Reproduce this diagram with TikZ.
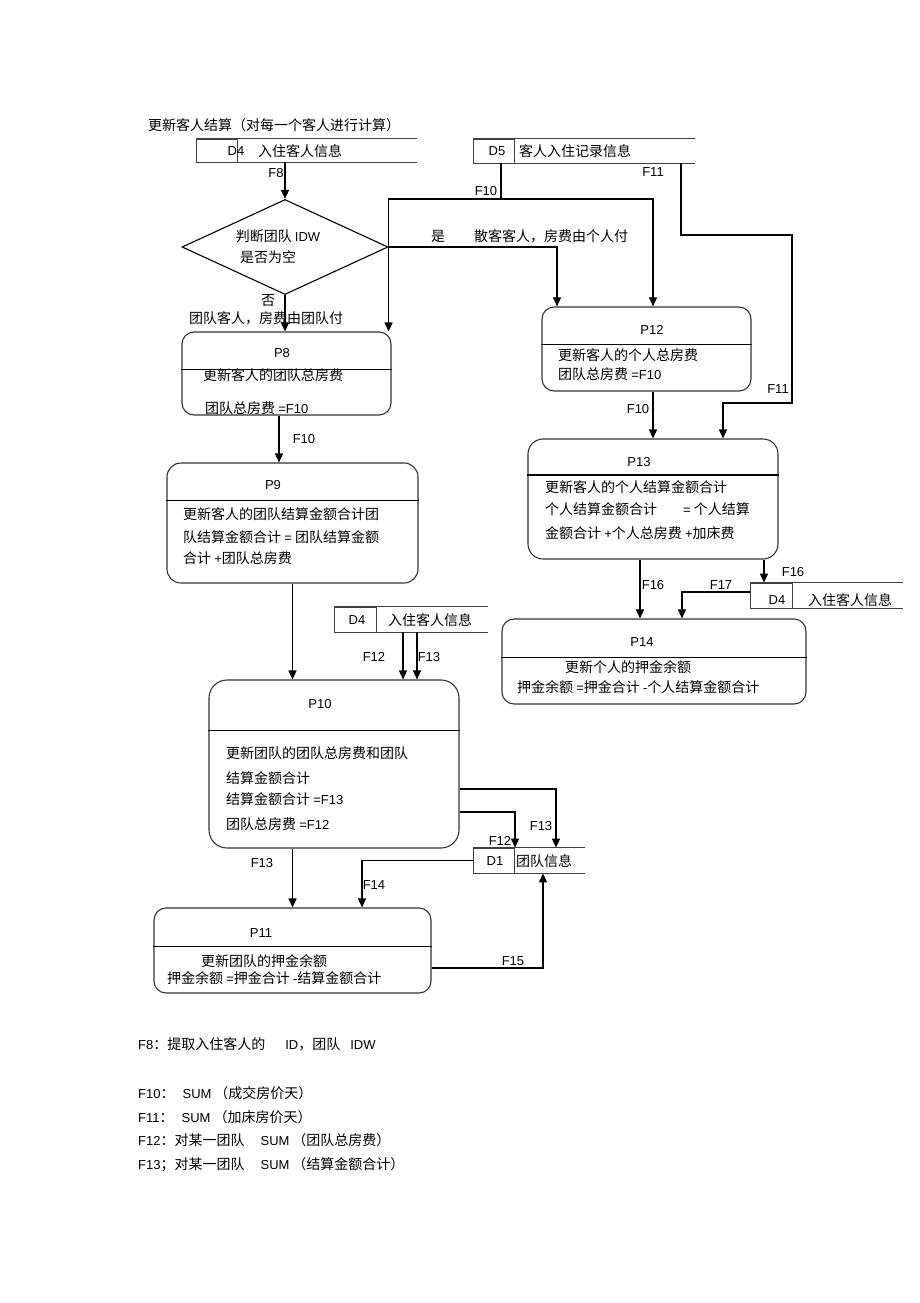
\documentclass[tikz,border=0pt]{standalone}
\usepackage{fontspec}
\setmainfont{Noto Sans CJK SC}
\newfontfamily\enfont{Liberation Sans}
\newcommand\en[1]{{\enfont\fontsize{13}{15}\selectfont #1}}
\usetikzlibrary{shapes.geometric,arrows.meta}
\tikzset{proc/.style={draw=black!80, line width=1.1pt, rounded corners=12pt, inner sep=0pt},
idbox/.style={draw=black!75, line width=0.8pt, inner sep=0pt, minimum width=41, minimum height=25},
storeln/.style={draw=black!75, line width=0.8pt},
flow/.style={draw, line width=1.3pt, -{Triangle[length=9pt,width=8pt]}},
txt/.style={inner sep=0pt, font=\fontsize{14}{16}\selectfont},
tag/.style={inner sep=0pt, font=\enfont\fontsize{13}{15}\selectfont}}

\begin{document}
\begin{tikzpicture}[x=1pt,y=-1pt]
			\useasboundingbox (0,0) rectangle (920,1303);
			\node[txt,anchor=west] (title) at (148,125) {更新客人结算（对每一个客人进行计算）};
			\node[idbox,minimum height=23] (d4a) at (216.5,150.5) {};
			\draw[storeln] (d4a.north west) -- ++(221,0) (d4a.south west) -- ++(221,0);
			\node[tag] (d4at) at (236,151) {D4};
			\node[txt,anchor=west] (d4al) at (258,151) {入住客人信息};
			\node[idbox,minimum height=24] (d5a) at (493.5,151) {};
			\draw[storeln] (d5a.north west) -- ++(222,0) (d5a.south west) -- ++(222,0);
			\node[tag] (d5at) at (497,151) {D5};
			\node[txt,anchor=west] (d5al) at (519,151) {客人入住记录信息};
			\node[idbox,minimum width=42] (d4b) at (355,619.5) {};
			\draw[storeln] (d4b.north west) -- ++(154,0) (d4b.south west) -- ++(154,0);
			\node[tag] (d4bt) at (357,620) {D4};
			\node[txt,anchor=west] (d4bl) at (388,620) {入住客人信息};
			\node[idbox,minimum width=42] (d4c) at (771,595.5) {};
			\draw[storeln] (d4c.north west) -- ++(153,0) (d4c.south west) -- ++(153,0);
			\node[tag] (d4ct) at (777,600) {D4};
			\node[txt,anchor=west] (d4cl) at (808,600) {入住客人信息};
			\node[idbox] (d1a) at (493.5,860.5) {};
			\draw[storeln] (d1a.north west) -- ++(112,0) (d1a.south west) -- ++(112,0);
			\node[tag] (d1at) at (495,861) {D1};
			\node[txt,anchor=west] (d1al) at (516,861) {团队信息};
			\node[draw, diamond, line width=1.1pt, minimum width=206, minimum height=95, inner sep=0pt] (dia) at (285,247) {};
			\node[txt] (dia1) at (278,236) {判断团队 \en{IDW}};
			\node[txt] (dia2) at (268,257) {是否为空};
			\node[proc, minimum width=209, minimum height=83] (p8) at (286.5,373.5) {};
			\draw[line width=0.9pt] (p8.west |- 0,369) -- (p8.east |- 0,369);
			\node[tag] (p8t) at (282,353) {P8};
			\node[txt,anchor=west] (p8a) at (203,375) {更新客人的团队总房费};
			\node[txt,anchor=west] (p8b) at (205,408) {团队总房费 \en{=F10}};
			\node[proc, minimum width=251, minimum height=120, rounded corners=14pt] (p9) at (292.5,523) {};
			\draw[line width=0.9pt] (p9.west |- 0,500) -- (p9.east |- 0,500);
			\node[tag] (p9t) at (273,485) {P9};
			\node[txt,anchor=west] (p9a) at (183,514) {更新客人的团队结算金额合计团};
			\node[txt,anchor=west] (p9b) at (183,537) {队结算金额合计 \en{=} 团队结算金额};
			\node[txt,anchor=west] (p9c) at (183,558) {合计 \en{+}团队总房费};
			\node[proc, minimum width=250, minimum height=168, rounded corners=18pt] (p10) at (334,764) {};
			\draw[line width=0.9pt] (p10.west |- 0,730) -- (p10.east |- 0,730);
			\node[tag] (p10t) at (320,704) {P10};
			\node[txt,anchor=west] (p10a) at (226,753) {更新团队的团队总房费和团队};
			\node[txt,anchor=west] (p10b) at (226,778) {结算金额合计};
			\node[txt,anchor=west] (p10c) at (226,799) {结算金额合计 \en{=F13}};
			\node[txt,anchor=west] (p10d) at (226,824) {团队总房费 \en{=F12}};
			\node[proc, minimum width=277, minimum height=85] (p11) at (292.5,950.5) {};
			\draw[line width=0.9pt] (p11.west |- 0,946) -- (p11.east |- 0,946);
			\node[tag] (p11t) at (261,933) {P11};
			\node[txt,anchor=west] (p11a) at (201,961) {更新团队的押金余额};
			\node[txt,anchor=west] (p11b) at (167,978) {押金余额 \en{=}押金合计 \en{-}结算金额合计};
			\node[proc, minimum width=209, minimum height=84] (p12) at (646.5,349) {};
			\draw[line width=0.9pt] (p12.west |- 0,344) -- (p12.east |- 0,344);
			\node[tag] (p12t) at (652,330) {P12};
			\node[txt,anchor=west] (p12a) at (558,355) {更新客人的个人总房费};
			\node[txt,anchor=west] (p12b) at (558,374) {团队总房费 \en{=F10}};
			\node[proc, minimum width=250, minimum height=120, rounded corners=15pt] (p13) at (653,499) {};
			\draw[line width=1.6pt] (p13.west |- 0,475) -- (p13.east |- 0,475);
			\node[tag] (p13t) at (639,462) {P13};
			\node[txt,anchor=west] (p13a) at (545,487) {更新客人的个人结算金额合计};
			\node[txt,anchor=west] (p13b) at (545,509) {个人结算金额合计\hspace{26pt}\en{=} 个人结算};
			\node[txt,anchor=west] (p13c) at (545,533) {金额合计 \en{+}个人总房费 \en{+}加床费};
			\node[proc, minimum width=304, minimum height=85] (p14) at (654,661.5) {};
			\draw[line width=0.9pt] (p14.west |- 0,657) -- (p14.east |- 0,657);
			\node[tag] (p14t) at (642,642) {P14};
			\node[txt,anchor=west] (p14a) at (565,667) {更新个人的押金余额};
			\node[txt,anchor=west] (p14b) at (517,687) {押金余额 \en{=}押金合计 \en{-}个人结算金额合计};
			\coordinate (j1) at (501,199);
			\coordinate (k1) at (681,235);
			\coordinate (k2) at (792,403);
			\draw[flow] (dia.north |- d4a.south) -- (dia.north);
			\draw[line width=1.3pt] (j1 |- d5a.south) -- (j1);
			\draw[flow] (j1) -| (dia.east |- p8.north);
			\draw[flow] (j1) -| ([xshift=6.5]p12.north);
			\draw[flow] (dia.east) -| ([xshift=-89.5]p12.north);
			\draw[flow] (dia.south) -- (dia.south |- p8.north);
			\draw[flow] (k1 |- d5a.south) -- (k1) -| (k2) -| ([xshift=70]p13.north);
			\draw[flow] ([xshift=-7.5]p8.south) -- ([xshift=-7.5]p8.south |- p9.north);
			\draw[flow] (p9.south) -- (p9.south |- p10.north);
			\draw[flow] ([xshift=48]d4b.south) -- ([xshift=48]d4b.south |- p10.north);
			\draw[flow] ([xshift=62]d4b.south) -- ([xshift=62]d4b.south |- p10.north);
			\draw[flow] ([yshift=-25]p10.east) -| ([xshift=62.5]d1a.north);
			\draw[flow] ([yshift=-48]p10.east) -| ([xshift=21.5]d1a.north);
			\draw[flow] (d1a.west) -| ([xshift=69.5]p11.north);
			\draw[flow] (p11.north |- p10.south) -- (p11.north);
			\draw[flow] ([yshift=-17.5]p11.east) -| ([xshift=49.5]d1a.south);
			\draw[flow] (p13.north |- p12.south) -- (p13.north);
			\draw[flow] ([xshift=-13]p13.south) -- ([xshift=-13]p13.south |- p14.north);
			\draw[flow] ([xshift=111]p13.south) -- ([xshift=111]p13.south |- d4c.north);
			\draw[flow] ([yshift=3.5]d4c.west) -| ([xshift=28]p14.north);
			\node[tag] (f8) at (276,173) {F8};
			\node[tag] (f10a) at (486,191) {F10};
			\node[tag] (f11a) at (653,172) {F11};
			\node[txt] (yes) at (438,236) {是};
			\node[txt,anchor=west] (yesl) at (474,236) {散客客人，房费由个人付};
			\node[txt] (no) at (268,301) {否};
			\node[txt,anchor=west] (nol) at (189,318) {团队客人，房费由团队付};
			\node[tag] (f11b) at (778,389) {F11};
			\node[tag] (f10b) at (638,409) {F10};
			\node[tag] (f10c) at (304,439) {F10};
			\node[tag] (f16a) at (653,585) {F16};
			\node[tag] (f17) at (721,585) {F17};
			\node[tag] (f16b) at (793,572) {F16};
			\node[tag] (f12a) at (374,657) {F12};
			\node[tag] (f13a) at (429,657) {F13};
			\node[tag] (f13b) at (541,826) {F13};
			\node[tag] (f12b) at (500,841) {F12};
			\node[tag] (f13c) at (262,863) {F13};
			\node[tag] (f14) at (374,885) {F14};
			\node[tag] (f15) at (513,961) {F15};
			\node[txt,anchor=west] (n8) at (138,1044) {\en{F8}：提取入住客人的\hspace{20pt}\en{ID}，团队\hspace{10pt}\en{IDW}};
			\node[txt,anchor=west] (n10) at (138,1093) {\en{F10}：\hspace{8pt}\en{SUM}\hspace{3pt}（成交房价天）};
			\node[txt,anchor=west] (n11) at (138,1117) {\en{F11}：\hspace{8pt}\en{SUM}\hspace{3pt}（加床房价天）};
			\node[txt,anchor=west] (n12) at (138,1140) {\en{F12}：对某一团队\hspace{16pt}\en{SUM}\hspace{3pt}（团队总房费）};
			\node[txt,anchor=west] (n13) at (138,1165) {\en{F13}；对某一团队\hspace{16pt}\en{SUM}\hspace{3pt}（结算金额合计）};
\end{tikzpicture}
\end{document}
